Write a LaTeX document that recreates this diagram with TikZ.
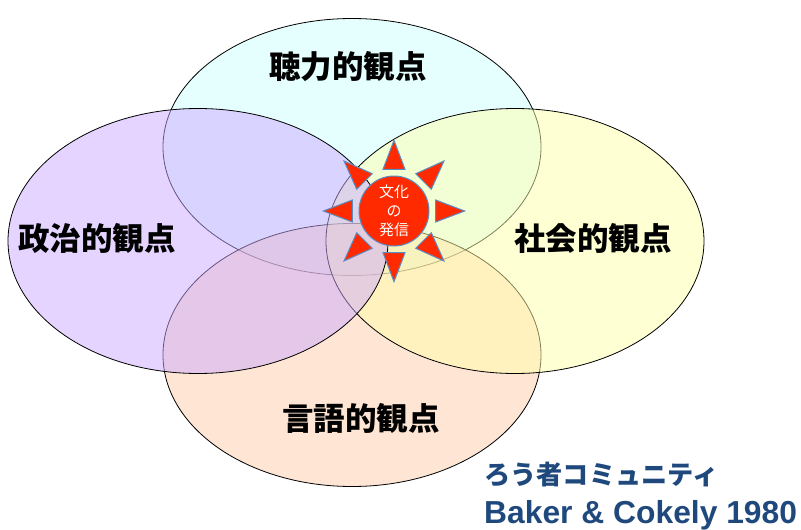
\documentclass[tikz,border=0pt]{standalone}
\usepackage{fontspec}
\setmainfont{Liberation Sans}
\newfontfamily\jpfont{Noto Sans CJK JP}
\usetikzlibrary{shapes.geometric,calc}
\definecolor{raycolor}{HTML}{FF2A00}
\definecolor{rayline}{HTML}{5B8DC4}
\definecolor{credit}{HTML}{1F497D}
\tikzset{
  view/.style={ellipse,draw=black,line width=0.8pt,fill opacity=0.5,inner sep=0pt},
  viewlabel/.style={font=\jpfont\bfseries\fontsize{31.5}{36}\selectfont},
  ray/.style={isosceles triangle,isosceles triangle stretches,draw=rayline,line width=1pt,fill=raycolor,inner sep=0pt,minimum height=29pt,minimum width=22pt},
}
\begin{document}
\begin{tikzpicture}[x=1pt,y=-1pt]
    \useasboundingbox (0,0) rectangle (801,530);

    \node[view,fill={rgb,255:red,204;green,255;blue,255},minimum width=378pt,minimum height=257pt] (hearing) at (352,147) {};
    \node[view,fill={rgb,255:red,255;green,204;blue,170},minimum width=378pt,minimum height=263pt] (language) at (352,355) {};
    \node[view,fill={rgb,255:red,255;green,255;blue,170},minimum width=378pt,minimum height=265pt] (social) at (515,241) {};
    \node[view,fill={rgb,255:red,204;green,170;blue,255},minimum width=380pt,minimum height=265pt] (political) at (198,241) {};

    \node[viewlabel] (hearinglabel) at (348,67) {聴力的観点};
    \node[viewlabel] (politicallabel) at (97,238) {政治的観点};
    \node[viewlabel] (sociallabel) at (593,238) {社会的観点};
    \node[viewlabel] (languagelabel) at (361,418) {言語的観点};

    % centre
    \node[circle,draw=rayline,line width=1pt,fill=raycolor,minimum size=70pt,inner sep=0pt,text=white,align=center,font=\jpfont\fontsize{15}{19}\selectfont] (sun) at (394,211) {文化\\の\\発信};
    \foreach \a in {0,45,...,315}
        \node[ray,rotate=\a,anchor=apex] (ray\a) at ($(sun.center)+(\a:72pt)$) {};

    \node[anchor=west,inner sep=0pt,text=credit,font=\jpfont\bfseries\fontsize{26.2}{30}\selectfont] (community) at (484,475) {ろう者コミュニティ};
    \node[anchor=west,inner sep=0pt,text=credit,font=\bfseries\fontsize{31.8}{36}\selectfont] (source) at (484,515) {Baker \& Cokely 1980};
\end{tikzpicture}
\end{document}
